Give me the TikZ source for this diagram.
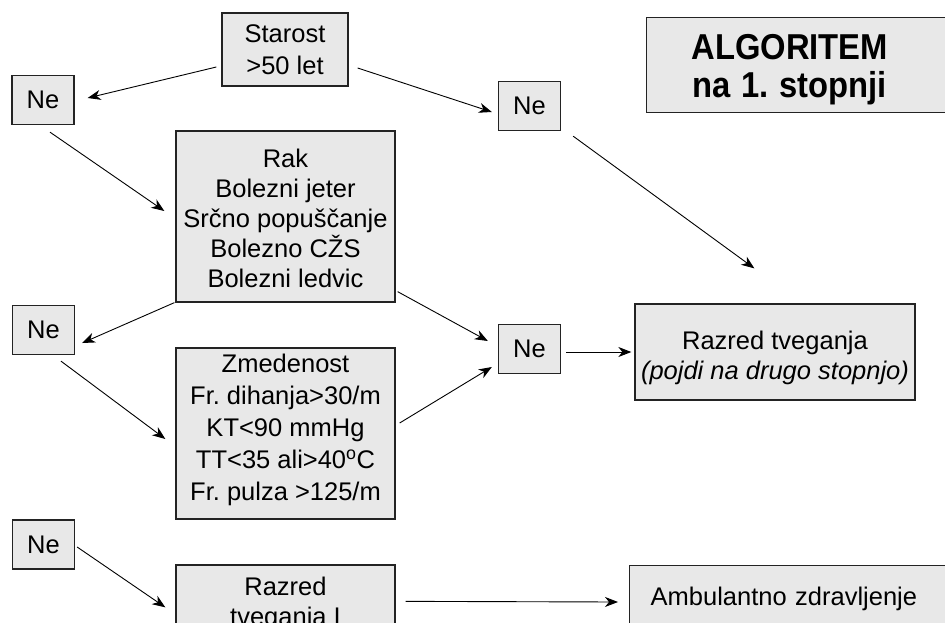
\documentclass[tikz,border=0pt]{standalone}
\usepackage{fontspec}
\usepackage{graphicx}
\setmainfont{Liberation Sans}
\frenchspacing
\usetikzlibrary{arrows.meta,calc}
\definecolor{boxfill}{RGB}{232,232,232}
\definecolor{boxline}{RGB}{35,35,35}
\begin{document}
\begin{tikzpicture}[x=1pt,y=-1pt,
  box/.style={draw=boxline, fill=boxfill, line width=1.3pt, inner sep=0pt, align=center,
    font=\fontsize{25.5pt}{30pt}\selectfont},
  nebox/.style={box, minimum width=62pt, minimum height=49pt},
  arr/.style={-{Stealth[length=13pt,width=10pt,inset=4pt]}, line width=0.9pt, black}]
\useasboundingbox (0,0) rectangle (945,622);
\clip (0,0) rectangle (945,622);
\fill[white] (0,0) rectangle (945,622);

\node[box, minimum width=126pt, minimum height=73pt, font=\fontsize{25.5pt}{32pt}\selectfont] (starost) at (285,49.5) {Starost\\>50 let};
\node[nebox] (ne1) at (43,100) {Ne};
\node[nebox] (ne2) at (529.5,106) {Ne};
\node[box, anchor=north west, minimum height=95pt, text width=340pt, align=left,
  font=\fontsize{36pt}{38pt}\selectfont\bfseries] (title) at (646,17)
  {\makebox[286pt]{\rule{0pt}{34pt}\scalebox{0.91}[1]{ALGORITEM}}\\\makebox[286pt]{\scalebox{0.91}[1]{na 1. stopnji}}};
\node[box, minimum width=219pt, minimum height=171pt] (rak) at (285.5,216.5)
  {\rule{0pt}{23pt}Rak\\Bolezni jeter\\Srčno popuščanje\\Bolezno CŽS\\Bolezni ledvic};
\node[nebox] (ne4) at (43.5,330) {Ne};
\node[nebox] (ne3) at (529.5,349) {Ne};
\node[box, minimum width=280pt, minimum height=96pt] (razred) at (775,352)
  {\rule{0pt}{31pt}Razred tveganja\\\textit{(pojdi na drugo stopnjo)}};
\node[box, minimum width=219pt, minimum height=171pt, font=\fontsize{25.5pt}{32pt}\selectfont] (zmed) at (285.5,433.5)
  {Zmedenost\\Fr. dihanja>30/m\\KT<90 mmHg\\TT<35 ali>40\textsuperscript{o}C\\Fr. pulza >125/m\rule[-12pt]{0pt}{12pt}};
\node[nebox] (ne5) at (43.5,544.5) {Ne};
\node[box, minimum width=219pt, minimum height=78pt] (razI) at (285.5,604) {Razred\\tveganja I};
\node[box, anchor=north west, minimum height=67pt, text width=300pt, inner xsep=21pt, align=left] (amb) at (629,565)
  {Ambulantno zdravljenje};

\draw[arr] ($(starost.west)+(-5,17.5)$) -- ($(ne1.east)+(13,-2)$);
\draw[arr] ($(starost.east)+(9,18.5)$) -- ($(ne2.west)+(-6,6)$);
\draw[arr] ($(ne1.south)+(7,7)$) -- ($(rak.west)+(-11,-5.5)$);
\draw[arr] ($(ne2.south east)+(12,5)$) -- ($(razred.north west)+(120,-35)$);
\draw[arr] ($(rak.south west)+(-1,0)$) -- ($(ne4.east)+(7,13)$);
\draw[arr] ($(rak.south east)+(2,-11)$) -- ($(ne3.west)+(-10,-8)$);
\draw[arr] ($(ne4.south)+(17.5,6)$) -- ($(zmed.west)+(-10,5.5)$);
\draw[arr] ($(zmed.east)+(4,-10.5)$) -- ($(ne3.west)+(-6,18)$);
\draw[arr] ($(ne3.east)+(5,3)$) -- ($(razred.west)+(-3,0)$);
\draw[arr] ($(ne5.east)+(2,2.5)$) -- ($(razI.north west)+(-10,43)$);
\draw[arr] ($(razI.north east)+(10,37)$) -- ($(amb.north west)+(-11,37)$);
\end{tikzpicture}
\end{document}
